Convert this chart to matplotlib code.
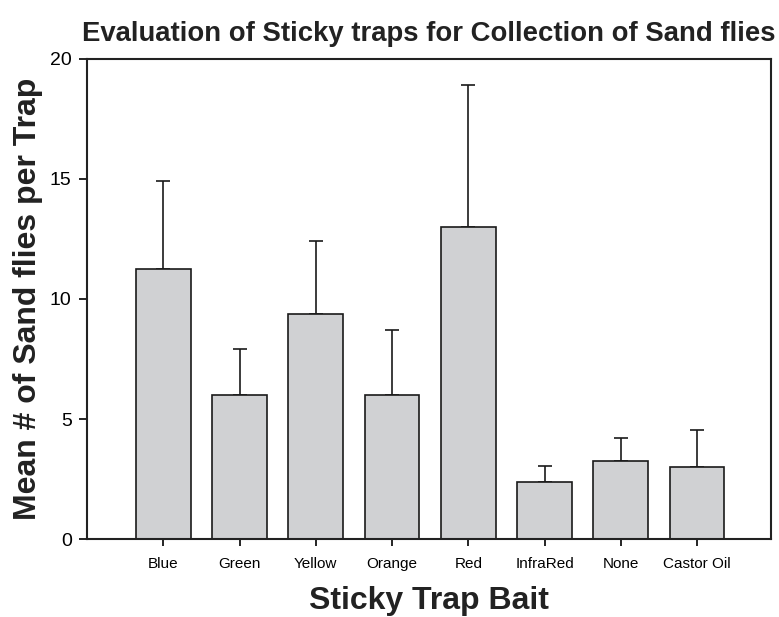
import numpy as np
import matplotlib
matplotlib.use('Agg')
import matplotlib.pyplot as plt

# data
baits = ['Blue', 'Green', 'Yellow', 'Orange', 'Red', 'InfraRed', 'None', 'Castor Oil']
means = [11.25, 6.0, 9.375, 6.0, 13.0, 2.39, 3.26, 3.0]
upper = [14.9, 7.92, 12.4, 8.7, 18.9, 3.05, 4.2, 4.53]
errs = [u - m for u, m in zip(upper, means)]

plt.rcParams['font.family'] = ['Liberation Sans', 'DejaVu Sans']

fig = plt.figure(figsize=(7.79, 6.17), dpi=100)
ax = fig.add_axes([0.1117, 0.1264, 0.8780, 0.7780])

x = np.arange(1, len(baits) + 1)
ax.bar(x, means, width=0.72, color='#d0d1d3', edgecolor='#1a1a1a', linewidth=1.2, zorder=2)
ax.errorbar(x, means, yerr=[np.zeros(len(errs)), errs], fmt='none', ecolor='#1a1a1a',
            elinewidth=1.2, capsize=5, capthick=1.2, zorder=1)

ax.set_xlim(0, 8.97)
ax.set_ylim(0, 20)
ax.set_yticks([0, 5, 10, 15, 20])
ax.set_xticks(x)
ax.set_xticklabels(baits, fontsize=11)
ax.tick_params(axis='y', labelsize=14, length=6, width=1.2, direction='out', pad=5)
ax.tick_params(axis='x', length=5, width=1.2, direction='out', pad=8)
for s in ax.spines.values():
    s.set_linewidth(1.5)
    s.set_color('#222222')

ax.set_title('Evaluation of Sticky traps for Collection of Sand flies', fontsize=19.8,
             fontweight='bold', pad=13, color='#222222')
ax.set_xlabel('Sticky Trap Bait', fontsize=23, fontweight='bold', labelpad=11, color='#222222')
ax.set_ylabel('Mean # of Sand flies per Trap', fontsize=23, fontweight='bold', labelpad=5,
              color='#222222')

fig.savefig('out.png', dpi=100)
